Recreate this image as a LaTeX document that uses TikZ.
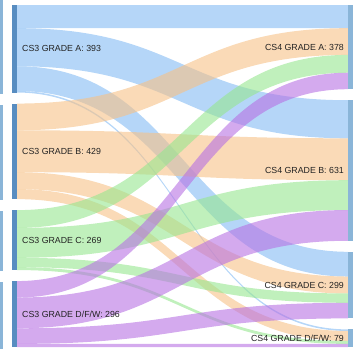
\documentclass[tikz,border=0pt]{standalone}
\usepackage{fontspec}
\setmainfont{Liberation Sans}
\usepackage{xcolor}
\definecolor{sgblue}{HTML}{84BBF3}
\definecolor{sgpeach}{HTML}{F6C187}
\definecolor{sggreen}{HTML}{96E68F}
\definecolor{sgpurple}{HTML}{B771E3}
\definecolor{sgbar}{HTML}{588DC1}
\definecolor{sglight}{HTML}{8AB5D8}
\definecolor{sgtext}{HTML}{222222}

\begin{document}
\begin{tikzpicture}[x=1pt, y=-1pt,
		link/.style={fill opacity=.6},
		lbl/.style={inner sep=0pt, text=sgtext, font=\fontsize{8.8}{10}\selectfont}]
		\useasboundingbox (0,0) rectangle (357,349);
		% links from CS3 grade A
		\fill[link, sgblue] (17,5) .. controls (182.5,5) and (182.5,5) .. (348,5) -- (348,28.17) .. controls (182.5,28.17) and (182.5,28.17) .. (17,28.17) -- cycle;
		\fill[link, sgblue] (17,28.17) .. controls (182.5,28.17) and (182.5,100.21) .. (348,100.21) -- (348,138.31) .. controls (182.5,138.31) and (182.5,66.27) .. (17,66.27) -- cycle;
		\fill[link, sgblue] (17,66.27) .. controls (182.5,66.27) and (182.5,251.79) .. (348,251.79) -- (348,276.52) .. controls (182.5,276.52) and (182.5,90.99) .. (17,90.99) -- cycle;
		\fill[link, sgblue] (17,90.99) .. controls (182.5,90.99) and (182.5,329.40) .. (348,329.40) -- (348,330.96) .. controls (182.5,330.96) and (182.5,92.55) .. (17,92.55) -- cycle;
		% links from CS3 grade B
		\fill[link, sgpeach] (17,103.55) .. controls (182.5,103.55) and (182.5,28.17) .. (348,28.17) -- (348,54.90) .. controls (182.5,54.90) and (182.5,130.29) .. (17,130.29) -- cycle;
		\fill[link, sgpeach] (17,130.29) .. controls (182.5,130.29) and (182.5,138.31) .. (348,138.31) -- (348,180.19) .. controls (182.5,180.19) and (182.5,172.17) .. (17,172.17) -- cycle;
		\fill[link, sgpeach] (17,172.17) .. controls (182.5,172.17) and (182.5,276.52) .. (348,276.52) -- (348,293.45) .. controls (182.5,293.45) and (182.5,189.10) .. (17,189.10) -- cycle;
		\fill[link, sgpeach] (17,189.10) .. controls (182.5,189.10) and (182.5,330.96) .. (348,330.96) -- (348,340.98) .. controls (182.5,340.98) and (182.5,199.13) .. (17,199.13) -- cycle;
		% links from CS3 grade C
		\fill[link, sggreen] (17,210.13) .. controls (182.5,210.13) and (182.5,54.90) .. (348,54.90) -- (348,72.73) .. controls (182.5,72.73) and (182.5,227.95) .. (17,227.95) -- cycle;
		\fill[link, sggreen] (17,227.95) .. controls (182.5,227.95) and (182.5,180.19) .. (348,180.19) -- (348,210.04) .. controls (182.5,210.04) and (182.5,257.80) .. (17,257.80) -- cycle;
		\fill[link, sggreen] (17,257.80) .. controls (182.5,257.80) and (182.5,293.45) .. (348,293.45) -- (348,302.81) .. controls (182.5,302.81) and (182.5,267.16) .. (17,267.16) -- cycle;
		\fill[link, sggreen] (17,267.16) .. controls (182.5,267.16) and (182.5,340.98) .. (348,340.98) -- (348,343.88) .. controls (182.5,343.88) and (182.5,270.06) .. (17,270.06) -- cycle;
		% links from CS3 grade D/F/W
		\fill[link, sgpurple] (17,281.06) .. controls (182.5,281.06) and (182.5,72.73) .. (348,72.73) -- (348,89.21) .. controls (182.5,89.21) and (182.5,297.54) .. (17,297.54) -- cycle;
		\fill[link, sgpurple] (17,297.54) .. controls (182.5,297.54) and (182.5,210.04) .. (348,210.04) -- (348,240.79) .. controls (182.5,240.79) and (182.5,328.29) .. (17,328.29) -- cycle;
		\fill[link, sgpurple] (17,328.29) .. controls (182.5,328.29) and (182.5,302.81) .. (348,302.81) -- (348,318.40) .. controls (182.5,318.40) and (182.5,343.88) .. (17,343.88) -- cycle;
		\fill[link, sgpurple] (17,343.88) .. controls (182.5,343.88) and (182.5,343.88) .. (348,343.88) -- (348,347) .. controls (182.5,347) and (182.5,347) .. (17,347) -- cycle;
		% clipped column on the far left
		\fill[sglight] (0,0) rectangle (2.5,94);
		\fill[sglight] (0,105) rectangle (2.5,200);
		\fill[sglight] (0,211) rectangle (2.5,271);
		\fill[sglight] (0,282) rectangle (2.5,349);
		% node bars
		\fill[sgbar] (12,5) rectangle (17,92.55);
		\fill[sgbar] (12,103.55) rectangle (17,199.13);
		\fill[sgbar] (12,210.13) rectangle (17,270.06);
		\fill[sgbar] (12,281.06) rectangle (17,347);
		\fill[sglight] (348,5) rectangle (353,89.21);
		\fill[sglight] (348,100.21) rectangle (353,240.79);
		\fill[sglight] (348,251.79) rectangle (353,318.40);
		\fill[sglight] (348,329.40) rectangle (353,347);
		% labels
		\node[lbl, anchor=west] (cs3a) at (22,48.78) {CS3 GRADE A: 393};
		\node[lbl, anchor=west] (cs3b) at (22,151.34) {CS3 GRADE B: 429};
		\node[lbl, anchor=west] (cs3c) at (22,240.09) {CS3 GRADE C: 269};
		\node[lbl, anchor=west] (cs3d) at (22,314.03) {CS3 GRADE D/F/W: 296};
		\node[lbl, anchor=east] (cs4a) at (344,47.11) {CS4 GRADE A: 378};
		\node[lbl, anchor=east] (cs4b) at (344,170.50) {CS4 GRADE B: 631};
		\node[lbl, anchor=east] (cs4c) at (344,285.09) {CS4 GRADE C: 299};
		\node[lbl, anchor=east] (cs4d) at (344,338.20) {CS4 GRADE D/F/W: 79};
	\end{tikzpicture}
\end{document}
